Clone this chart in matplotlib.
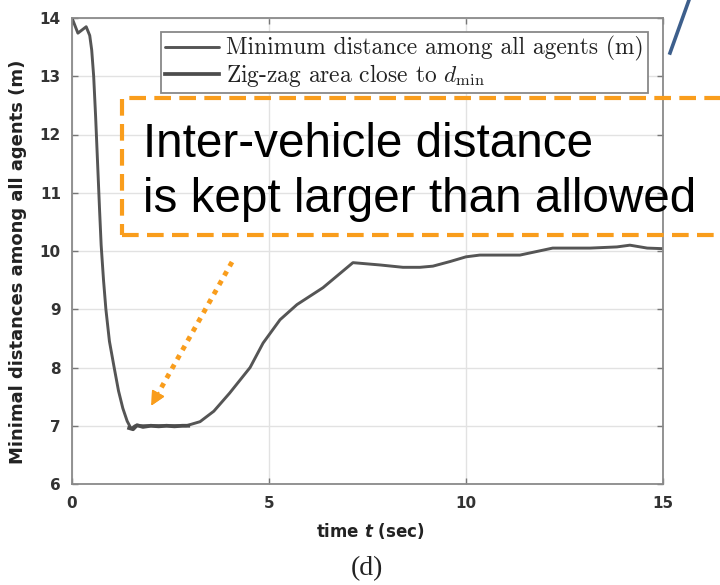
import numpy as np
import matplotlib
matplotlib.use('Agg')
import matplotlib.pyplot as plt
from matplotlib.patches import Rectangle
from matplotlib.lines import Line2D

# minimum distance among all agents over time
time_s = [0.0, 0.15, 0.36, 0.45, 0.5, 0.55, 0.6, 0.65, 0.7, 0.74, 0.8, 0.86,
          0.95, 1.07, 1.18, 1.29, 1.4, 1.5, 1.6, 2.0, 2.5, 2.9, 3.25, 3.6,
          4.0, 4.52, 4.85, 5.28, 5.71, 6.37, 7.13, 7.82, 8.4, 8.83, 9.16,
          9.6, 10.0, 10.35, 11.0, 11.37, 12.2, 13.15, 13.83, 14.16, 14.6, 15.0]
min_dist = [14.0, 13.74, 13.85, 13.7, 13.45, 13.0, 12.3, 11.5, 10.7, 10.1,
            9.5, 9.0, 8.45, 8.0, 7.6, 7.3, 7.08, 6.95, 7.0, 7.0, 7.0, 7.0,
            7.07, 7.25, 7.56, 8.0, 8.42, 8.82, 9.08, 9.37, 9.8, 9.76, 9.72,
            9.72, 9.74, 9.82, 9.9, 9.93, 9.93, 9.93, 10.05, 10.05, 10.07,
            10.1, 10.05, 10.04]

# zig-zag segment near d_min
zz_time = [1.45, 1.55, 1.65, 1.8, 2.0, 2.2, 2.4, 2.6, 2.8, 2.95]
zz_dist = [6.96, 6.94, 7.01, 6.98, 7.0, 6.99, 7.0, 6.99, 7.0, 7.0]

x_ticks = [0, 5, 10, 15]
y_ticks = [6, 7, 8, 9, 10, 11, 12, 13, 14]

labels = ['Minimum distance among all agents (m)',
          r'Zig-zag area close to $d_{\min}$']
note_lines = ['Inter-vehicle distance', 'is kept larger than allowed']

ORANGE = '#F99D1C'
plt.rcParams['mathtext.fontset'] = 'custom'
plt.rcParams['mathtext.it'] = 'DejaVu Sans:italic:bold'

W, H = 720, 585
fig = plt.figure(figsize=(W / 100, H / 100), dpi=100)
ax = fig.add_axes([72 / W, 1 - 484 / H, (663 - 72) / W, (484 - 18) / H])

l1, = ax.plot(time_s, min_dist, color='#555555', lw=2.1, solid_capstyle='round')
l2, = ax.plot(zz_time, zz_dist, color='#4d4d4d', lw=2.7)

ax.set_xlim(0, 15)
ax.set_ylim(6, 14)
ax.set_xticks(x_ticks)
ax.set_yticks(y_ticks)
ax.grid(True, color='#e2e2e2', lw=1.0)
ax.set_axisbelow(True)
ax.tick_params(direction='in', top=True, right=True, length=4, width=1,
               color='#777777', labelsize=11, labelcolor='#333333')
ax.tick_params(axis='y', pad=8)
ax.tick_params(axis='x', pad=9)
for lab in ax.get_xticklabels() + ax.get_yticklabels():
    lab.set_fontweight('bold')
    lab.set_fontfamily('DejaVu Sans')
for sp in ax.spines.values():
    sp.set_color('#8a8a8a')
    sp.set_linewidth(1.3)

ax.set_ylabel('Minimal distances among all agents (m)', fontsize=13,
              fontweight='bold', family='DejaVu Sans', color='#222222')
ax.yaxis.set_label_coords(-(72 - 27) / 591, (484 - 262) / 466)
ax.set_xlabel(r'time $t$ (sec)', fontsize=12, fontweight='bold',
              family='DejaVu Sans', color='#222222')
ax.xaxis.set_label_coords((370 - 72) / 591, -(521 - 484) / 466)

leg = ax.legend([l1, l2], labels, loc='upper right',
                bbox_to_anchor=((648 - 72) / 591, (484 - 32) / 466),
                fancybox=False, framealpha=1, edgecolor='#888888',
                prop={'family': 'cmr10', 'size': 16.9}, handlelength=2.3,
                handletextpad=0.3, labelspacing=0.02, borderpad=0.18,
                borderaxespad=0)
leg.get_frame().set_linewidth(1.3)
for t in leg.get_texts():
    t.set_math_fontfamily('cm')
    t.set_color('#222222')

# caption under the axes
fig.text(367 / W, 1 - 569 / H, '(d)', ha='center', va='center',
         family='Liberation Serif', fontsize=20, color='#222222')

# dashed note box over the plot
box = Rectangle((122 / W, 1 - 235 / H), (760 - 122) / W, (235 - 98) / H,
                transform=fig.transFigure, fill=False, ec=ORANGE, lw=3,
                ls=(0, (4, 2)), clip_on=False)
fig.add_artist(box)
for line, base_y in zip(note_lines, [157, 212]):
    fig.text(143 / W, 1 - base_y / H, line, ha='left', va='baseline',
             family='Liberation Sans', fontsize=34.3, color='black')

# dotted arrow pointing at the flat part of the curve
tail = (232 / W, 1 - 262 / H)
base = (160 / W, 1 - 390 / H)
tip = (150 / W, 1 - 408 / H)
fig.add_artist(Line2D([tail[0], base[0]], [tail[1], base[1]],
                      transform=fig.transFigure, color=ORANGE, lw=3.5,
                      ls=(0, (1, 1.2))))
fig.add_artist(plt.annotate('', xy=tip, xytext=base, xycoords='figure fraction',
                            textcoords='figure fraction',
                            arrowprops=dict(arrowstyle='-|>', color=ORANGE,
                                            lw=1, mutation_scale=22)))

# blue stroke at the top right
fig.add_artist(Line2D([670 / W, 689 / W], [1 - 53 / H, 1.0],
                      transform=fig.transFigure, color='#3d5f8c', lw=2.6))

fig.savefig('out.png', dpi=100)
